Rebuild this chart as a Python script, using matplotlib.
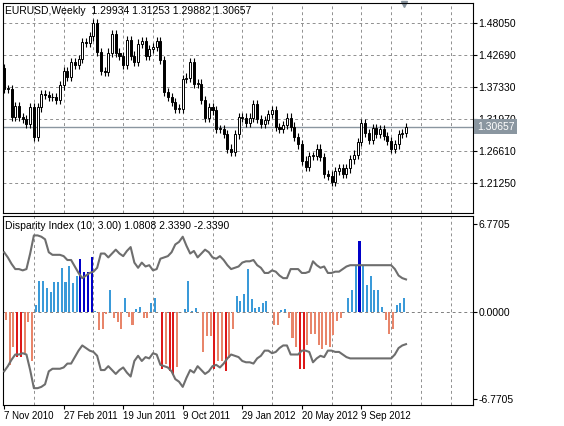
import numpy as np
import matplotlib
matplotlib.use("Agg")
import matplotlib.pyplot as plt

# ---------------- data ----------------
first_open = 1.405
closes = [1.370, 1.370, 1.323, 1.341, 1.323, 1.320, 1.312, 1.339, 1.290, 1.339,
          1.362, 1.360, 1.356, 1.356, 1.351, 1.376, 1.400, 1.390, 1.415, 1.410,
          1.420, 1.449, 1.447, 1.458, 1.480, 1.432, 1.400, 1.398, 1.431, 1.462,
          1.431, 1.425, 1.410, 1.452, 1.426, 1.415, 1.446, 1.450, 1.426, 1.437,
          1.440, 1.450, 1.418, 1.365, 1.356, 1.348, 1.337, 1.337, 1.387, 1.389,
          1.415, 1.379, 1.379, 1.351, 1.322, 1.339, 1.334, 1.303, 1.303, 1.295,
          1.270, 1.265, 1.294, 1.323, 1.322, 1.313, 1.322, 1.344, 1.320, 1.312,
          1.318, 1.328, 1.335, 1.306, 1.303, 1.310, 1.322, 1.307, 1.290, 1.277,
          1.250, 1.240, 1.258, 1.258, 1.270, 1.256, 1.227, 1.225, 1.214, 1.233,
          1.238, 1.228, 1.237, 1.252, 1.260, 1.281, 1.313, 1.296, 1.284, 1.305,
          1.295, 1.303, 1.291, 1.283, 1.270, 1.277, 1.295, 1.296, 1.30657]
hist = [-0.6, -4.1, -2.7, -3.5, -3.5, -3.2, -0.8, -3.8, 0.5, 2.4, 2.4, 1.8, 1.5, 2.3,
        2.3, 3.4, 2.3, 3.5, 2.2, 2.8, 4.1, 3.1, 3.1, 4.2, 0.1, -1.4, -1.3, -0.2, 1.65,
        -0.5, -0.8, -1.3, 1.1, -0.4, -1.0, 0.25, 0.35, -0.45, -0.45, 0.7, 1.1, 0.0,
        -4.4, -4.0, -4.6, -4.9, -4.3, 0.0, 0.2, 2.4, 0.1, 0.3, 0.0, -3.1, -1.9, -1.9,
        -4.4, -3.8, -3.8, -4.6, -3.6, -1.3, 1.25, 0.8, 1.4, 3.3, 1.0, 0.3, 0.35, 0.7,
        0.85, 0.0, -1.0, -1.0, 0.15, 0.2, -0.5, -2.0, -2.7, -4.4, -4.4, -2.6, -1.7,
        -1.7, -2.6, -2.9, -2.6, -2.7, -1.8, -0.7, -0.45, 0.0, 1.1, 1.7, 3.6, 5.5, 3.6,
        2.1, 2.8, 1.65, 1.65, 0.4, -0.65, -1.7, -1.3, 0.55, 0.7, 1.1]
band = [4.6, 4.2, 3.7, 3.3, 3.3, 3.2, 3.3, 4.5, 5.9, 5.9, 5.8, 5.6, 4.6, 4.4, 4.4, 4.4,
        4.3, 4.0, 4.0, 3.5, 3.0, 2.6, 2.8, 3.0, 3.1, 3.4, 4.5, 4.5, 4.2, 4.5, 4.8, 4.5,
        4.3, 4.7, 5.0, 3.8, 3.4, 3.8, 3.5, 3.6, 3.2, 3.3, 4.1, 4.2, 4.3, 4.6, 5.2, 5.4,
        5.8, 5.1, 4.5, 4.7, 4.2, 4.5, 4.8, 4.6, 4.2, 4.1, 4.3, 4.0, 3.6, 3.3, 3.4, 3.5,
        3.8, 3.9, 3.9, 4.0, 3.6, 3.4, 3.0, 3.0, 3.2, 3.1, 2.8, 2.6, 2.6, 3.3, 3.3, 3.3,
        3.0, 3.0, 3.1, 3.9, 3.6, 3.4, 3.5, 3.0, 3.0, 3.1, 3.1, 3.3, 3.5, 3.6, 3.6, 3.6,
        3.6, 3.6, 3.6, 3.6, 3.6, 3.6, 3.6, 3.6, 3.6, 3.3, 2.8, 2.6, 2.5]
price_ticks = [1.21250, 1.26610, 1.31970, 1.37330, 1.42690, 1.48050]
date_labels = ["7 Nov 2010", "27 Feb 2011", "19 Jun 2011", "9 Oct 2011",
               "29 Jan 2012", "20 May 2012", "9 Sep 2012"]
last = 1.30657

plt.rcParams["font.family"] = ["Liberation Sans", "DejaVu Sans"]

fig = plt.figure(figsize=(5.64, 4.26), dpi=100)
W, H = 564, 426
ax1 = fig.add_axes([3 / W, 1 - 213 / H, 470 / W, 210 / H])
ax2 = fig.add_axes([3 / W, 1 - 405 / H, 470 / W, 189 / H])
xl = (-0.3, 126)
fs = 7.5

# candles
wick = 0.007
for i, c in enumerate(closes):
    o = closes[i - 1] if i else first_open
    lo, hi = min(o, c), max(o, c)
    ax1.vlines(i, lo - wick, hi + wick, color="black", lw=0.8, zorder=3)
    body = max(hi - lo, 0.0012)
    ax1.bar(i, body, bottom=lo, width=0.55, color="black" if c < o else "white",
            edgecolor="black", lw=0.7, zorder=4)
ax1.axhline(last, color="#8a96a0", lw=1, zorder=2)
ax1.set_ylim(1.1622, 1.5140)
ax1.set_yticks(price_ticks)
ax1.set_yticklabels([f"{v:.5f}" for v in price_ticks])
ax1.text(1.008, last, f"{last:.5f}", transform=ax1.get_yaxis_transform(), fontsize=fs,
         color="white", va="center", ha="left",
         bbox=dict(boxstyle="square,pad=0.25", fc="#8a96a0", ec="none"), zorder=10)
ax1.text(0.005, 0.985, "EURUSD,Weekly  1.29934 1.31253 1.29882 1.30657",
         transform=ax1.transAxes, fontsize=fs, va="top")
ax1.plot([107.5], [1.512], marker="v", color="#8a96a0", ms=5, clip_on=False)

# disparity histogram
x = np.arange(len(hist)) + 0.5
cols = []
for v, b in zip(hist, band):
    if v >= 0:
        cols.append("#0000c8" if v > b else "#3a9ad9")
    else:
        cols.append("#dd1818" if -v > b else "#e8856a")
ax2.bar(x, hist, width=0.55, color=cols, zorder=3)
bx = np.arange(len(band))
ax2.plot(bx, band, color="#6e6e6e", lw=1.5, zorder=4)
ax2.plot(bx, -np.array(band), color="#6e6e6e", lw=1.5, zorder=4)
ax2.axhline(0, color="#808080", lw=0.7, ls=(0, (3, 3)), zorder=2)
ax2.set_ylim(-7.2, 7.4)
ax2.set_yticks([6.7705, 0, -6.7705])
ax2.set_yticklabels(["6.7705", "0.0000", "-6.7705"])
ax2.text(0.005, 0.975, "Disparity Index (10, 3.00) 1.0808 2.3390 -2.3390",
         transform=ax2.transAxes, fontsize=fs, va="top")

for ax in (ax1, ax2):
    ax.set_xlim(*xl)
    ax.set_xticks(np.arange(8, 126, 8), minor=True)
    ax.grid(True, which="minor", axis="x", color="#909090", lw=0.7, ls=(0, (3, 3)))
    ax.yaxis.tick_right()
    ax.tick_params(axis="y", labelsize=fs, length=3, pad=1)
    ax.tick_params(axis="x", which="minor", length=0)
    for s in ax.spines.values():
        s.set_linewidth(0.8)
ax1.grid(True, axis="y", color="#909090", lw=0.7, ls=(0, (3, 3)))
ax1.set_xticks([])
ax2.set_xticks(np.arange(0, 7 * 16, 16))
ax2.set_xticklabels(date_labels, fontsize=7, ha="left")
ax2.tick_params(axis="x", length=3, pad=1)

fig.savefig("out.png", dpi=100)
